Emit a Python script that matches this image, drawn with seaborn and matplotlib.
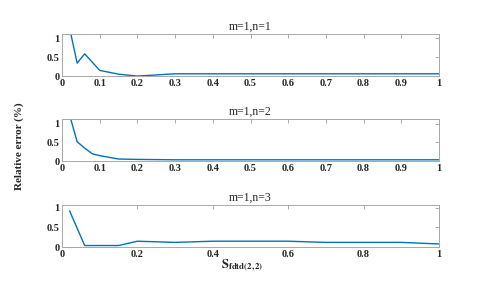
import numpy as np
import pandas as pd
import matplotlib
matplotlib.use('Agg')
import matplotlib.pyplot as plt
import seaborn as sns

# datos
s_vals = [0.02, 0.04, 0.06, 0.08, 0.1, 0.15, 0.2, 0.3, 0.4, 0.5, 0.6, 0.7, 0.8, 0.9, 1.0]
err_n1 = [1.27, 0.345, 0.59, 0.37, 0.15, 0.05, 0.0, 0.06, 0.06, 0.06, 0.06, 0.06, 0.06, 0.06, 0.06]
err_n2 = [1.23, 0.52, 0.35, 0.2, 0.15, 0.06, 0.05, 0.04, 0.04, 0.04, 0.04, 0.04, 0.04, 0.04, 0.04]
err_n3 = [0.92, 0.48, 0.04, 0.04, 0.04, 0.04, 0.15, 0.12, 0.15, 0.15, 0.15, 0.12, 0.12, 0.12, 0.08]
titles = ['m=1,n=1', 'm=1,n=2', 'm=1,n=3']
ylims = [1.13, 1.13, 1.08]
xtick_sets = [np.round(np.arange(0, 1.01, 0.1), 1), np.round(np.arange(0, 1.01, 0.1), 1),
              np.round(np.arange(0, 1.01, 0.2), 1)]

sns.set_style('white')
plt.rcParams['font.family'] = ['Liberation Serif', 'DejaVu Serif']
plt.rcParams['mathtext.fontset'] = 'stix'

fig = plt.figure(figsize=(4.85, 2.87), dpi=100)

# posiciones de los ejes (estilo subplot de MATLAB)
positions = [[0.128, 0.735, 0.777, 0.148],
             [0.128, 0.438, 0.777, 0.148],
             [0.128, 0.139, 0.777, 0.148]]

for i, err in enumerate([err_n1, err_n2, err_n3]):
    ax = fig.add_axes(positions[i])
    df = pd.DataFrame({'s': s_vals, 'err': err})
    sns.lineplot(x='s', y='err', data=df, ax=ax, color='#0072BD', linewidth=1.0)
    ax.set_xlim(0, 1)
    ax.set_ylim(0, ylims[i])
    ax.set_xticks(xtick_sets[i])
    ax.set_xticklabels(['0' if t == 0 else ('1' if t == 1 else f'{t:g}') for t in xtick_sets[i]])
    ax.set_yticks([0, 0.5, 1])
    ax.set_yticklabels(['0', '0.5', '1'])
    ax.set_xlabel('')
    ax.set_ylabel('')
    ax.set_title(titles[i], fontsize=8.5, pad=3)
    ax.tick_params(direction='in', length=3, width=0.6, color='#9a9a9a',
                   top=True, right=True, labelsize=7.5, pad=2)
    for lab in ax.get_xticklabels() + ax.get_yticklabels():
        lab.set_fontweight('bold')
    for sp in ax.spines.values():
        sp.set_color('#a8a8a8')
        sp.set_linewidth(0.7)

fig.text(0.5, 0.075, r'$\mathbf{S_{fdtd(2,2)}}$', ha='center', va='center', fontsize=9)
fig.text(0.04, 0.49, 'Relative error (%)', rotation=90, ha='center', va='center',
         fontsize=8, fontweight='bold')

fig.savefig('out.png', dpi=100)
